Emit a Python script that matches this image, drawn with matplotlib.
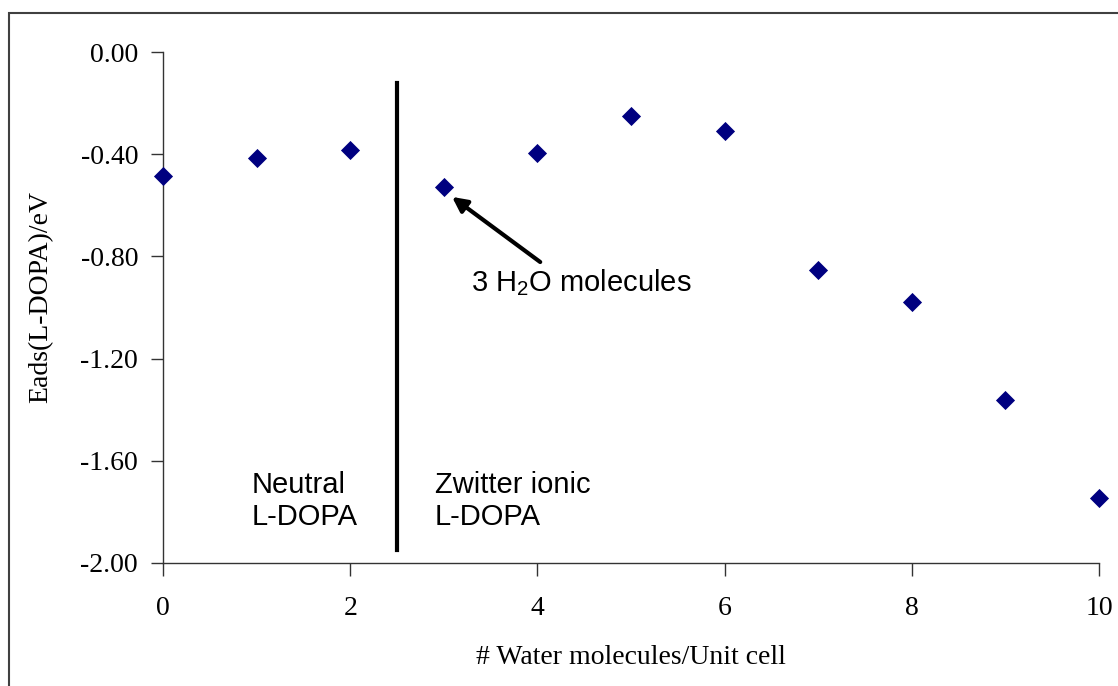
import matplotlib.pyplot as plt
from matplotlib.patches import Rectangle

# data
n_water = [0, 1, 2, 3, 4, 5, 6, 7, 8, 9, 10]
e_ads = [-0.485, -0.415, -0.384, -0.528, -0.395, -0.250, -0.309,
         -0.853, -0.978, -1.362, -1.746]
y_ticks = [0.0, -0.4, -0.8, -1.2, -1.6, -2.0]
x_ticks = [0, 2, 4, 6, 8, 10]

W, H = 1118, 686
fig = plt.figure(figsize=(W / 100, H / 100), dpi=100)
ax = fig.add_axes([163 / W, 1 - 563 / H, (1099 - 163) / W, (563 - 52) / H])

# outer frame (cut off at right and bottom)
fig.patches.append(Rectangle((9 / W, -0.1), 1.2, 1 - 13 / H + 0.1,
                             transform=fig.transFigure, fill=False,
                             edgecolor='#404040', linewidth=1.5))

ax.scatter(n_water, e_ads, marker='D', s=95, color='#000080', zorder=3,
           clip_on=False, linewidths=0)

ax.set_xlim(0, 10)
ax.set_ylim(-2.0, 0.0)
ax.set_xticks(x_ticks)
ax.set_yticks(y_ticks)
ax.set_yticklabels(['%.2f' % v for v in y_ticks])

serif = 'Liberation Serif'
for lab in ax.get_xticklabels() + ax.get_yticklabels():
    lab.set_fontfamily(serif)
    lab.set_fontsize(20)
ax.tick_params(direction='out', length=9, width=1, colors='#333333',
               labelcolor='black', pad=9)
ax.tick_params(axis='x', pad=15)

for side in ['top', 'right']:
    ax.spines[side].set_visible(False)
for side in ['left', 'bottom']:
    ax.spines[side].set_color('#333333')
    ax.spines[side].set_linewidth(1)

ax.set_xlabel('# Water molecules/Unit cell', fontfamily=serif, fontsize=20)
ax.set_ylabel('Eads(L-DOPA)/eV', fontfamily=serif, fontsize=20)
ax.xaxis.set_label_coords(0.5, -0.16)
ax.yaxis.set_label_coords(-0.117, 0.52)

# separator between neutral and zwitter ionic regions
ax.plot([2.5, 2.5], [-0.121, -1.949], color='black', linewidth=3)

sans = 'Liberation Sans'
ax.text(0.95, -1.757, 'Neutral\nL-DOPA', fontfamily=sans, fontsize=21,
        va='center', ha='left', linespacing=1.2)
ax.text(2.906, -1.757, 'Zwitter ionic\nL-DOPA', fontfamily=sans, fontsize=21,
        va='center', ha='left', linespacing=1.2)

ax.text(3.29, -0.904, '3 H$_\\mathregular{2}$O molecules', fontfamily=sans,
        fontsize=21, va='center', ha='left')
ax.annotate('', xy=(3.088, -0.567), xytext=(4.03, -0.822),
            arrowprops=dict(arrowstyle='-|>', color='black', lw=3,
                            mutation_scale=22, shrinkA=0, shrinkB=0))

fig.savefig('out.png', dpi=100)
